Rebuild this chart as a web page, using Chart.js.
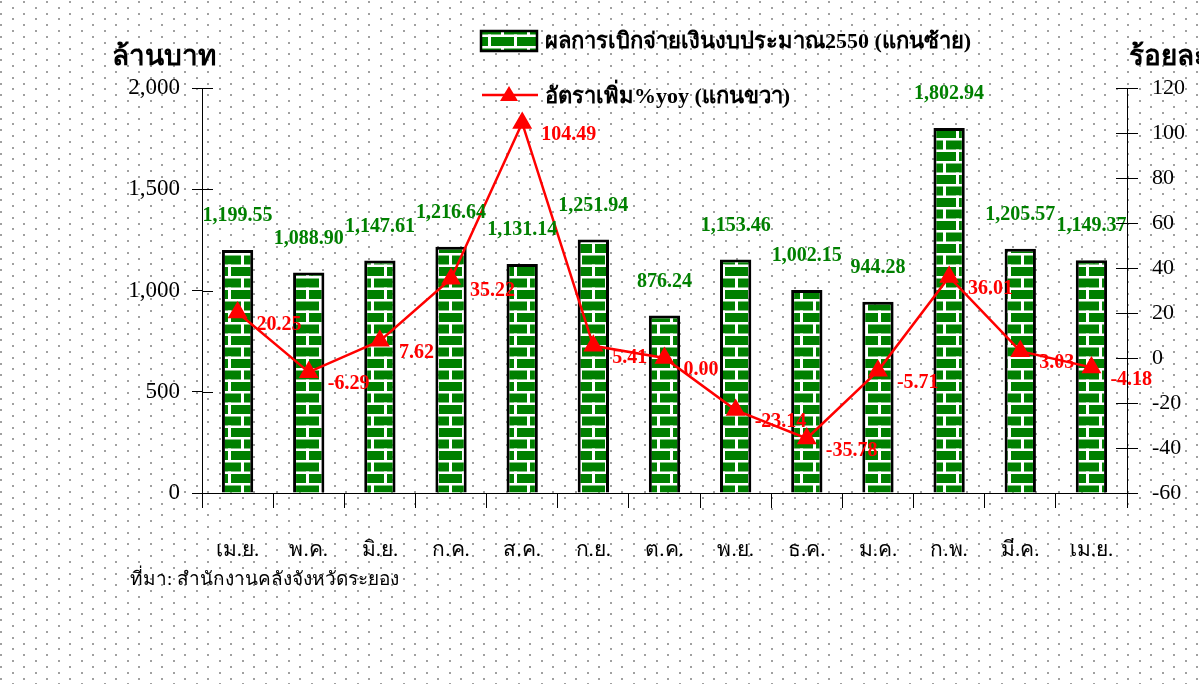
<!DOCTYPE html>
<html>
<head>
<meta charset="utf-8">
<script src="https://cdn.jsdelivr.net/npm/chart.js@4.4.1/dist/chart.umd.min.js"></script>
<style>
    body { margin: 0; background: #fff; }
    #wrap { width: 1199px; height: 684px; position: relative; }
</style>
</head>
<body>
<div id="wrap"><canvas id="budgetChart" width="1199" height="684"></canvas></div>
<script>
var months = ['เม.ย.', 'พ.ค.', 'มิ.ย.', 'ก.ค.', 'ส.ค.', 'ก.ย.', 'ต.ค.', 'พ.ย.', 'ธ.ค.', 'ม.ค.', 'ก.พ.', 'มี.ค.', 'เม.ย.'];
var disbursement = [1199.55, 1088.90, 1147.61, 1216.64, 1131.14, 1251.94, 876.24, 1153.46, 1002.15, 944.28, 1802.94, 1205.57, 1149.37];
var yoyGrowth = [20.25, -6.29, 7.62, 35.22, 104.49, 5.41, 0.00, -23.14, -35.78, -5.71, 36.01, 3.03, -4.18];
var leftTicks = [0, 500, 1000, 1500, 2000];
var rightTicks = [-60, -40, -20, 0, 20, 40, 60, 80, 100, 120];

var barLegend = 'ผลการเบิกจ่ายเงินงบประมาณ2550 (แกนซ้าย)';
var lineLegend = 'อัตราเพิ่ม%yoy (แกนขวา)';
var leftTitle = 'ล้านบาท';
var rightTitle = 'ร้อยละ';
var sourceNote = 'ที่มา: สำนักงานคลังจังหวัดระยอง';

var serif = "'Liberation Serif', 'Times New Roman', serif";

// dotted page background
var makeDots = function () {
    var c = document.createElement('canvas');
    c.width = 23;
    c.height = 35;
    var g = c.getContext('2d');
    g.fillStyle = '#a0a0a0';
    for (var r = 0; r < 6; r++) {
        var y = Math.round(1 + r * 5.83);
        var x = (r % 2 == 0) ? 0 : 12;
        g.fillRect(x, y, 2, 2);
    }
    return g.createPattern(c, 'repeat');
};

// green bricks for the bars
var makeBricks = function () {
    var c = document.createElement('canvas');
    c.width = 26;
    c.height = 23;
    var g = c.getContext('2d');
    g.fillStyle = '#008000';
    g.fillRect(0, 0, 26, 23);
    g.fillStyle = '#ffffff';
    g.fillRect(0, 0, 26, 2.5);
    g.fillRect(0, 11.5, 26, 2.5);
    g.fillRect(7, 0, 3, 12);
    g.fillRect(20, 11.5, 3, 12);
    return g.createPattern(c, 'repeat');
};

var ctx = document.getElementById('budgetChart').getContext('2d');
var dotPattern = makeDots();
var brickPattern = makeBricks();

var fmtMoney = function (v) {
    return v.toLocaleString('en-US', { minimumFractionDigits: 2, maximumFractionDigits: 2 });
};

var backgroundPlugin = {
    id: 'dottedBackground',
    beforeDraw: function (chart) {
        var c = chart.ctx;
        c.save();
        c.fillStyle = '#ffffff';
        c.fillRect(0, 0, chart.width, chart.height);
        c.fillStyle = dotPattern;
        c.fillRect(0, 0, chart.width, chart.height);
        c.restore();
    }
};

var extrasPlugin = {
    id: 'extras',
    afterDatasetsDraw: function (chart) {
        var c = chart.ctx;
        c.save();
        c.textBaseline = 'middle';

        // bar value labels
        c.font = 'bold 20px ' + serif;
        c.fillStyle = '#008000';
        c.textAlign = 'center';
        chart.getDatasetMeta(1).data.forEach(function (bar, i) {
            c.fillText(fmtMoney(disbursement[i]), bar.x, bar.y - 34);
        });

        // line value labels
        c.font = 'bold 20px ' + serif;
        c.fillStyle = '#ff0000';
        c.textAlign = 'left';
        chart.getDatasetMeta(0).data.forEach(function (pt, i) {
            c.fillText(yoyGrowth[i].toFixed(2), pt.x + 19, pt.y + 12);
        });
        c.restore();
    },
    afterDraw: function (chart) {
        var c = chart.ctx;
        c.save();
        c.strokeStyle = '#000';
        c.lineWidth = 1;

        // ticks that cross into the plot
        var yl = chart.scales.yLeft;
        var yr = chart.scales.yRight;
        yl.ticks.forEach(function (t) {
            var y = Math.round(yl.getPixelForValue(t.value)) + 0.5;
            c.beginPath();
            c.moveTo(yl.right, y);
            c.lineTo(yl.right + 11, y);
            c.stroke();
        });
        yr.ticks.forEach(function (t) {
            var y = Math.round(yr.getPixelForValue(t.value)) + 0.5;
            c.beginPath();
            c.moveTo(yr.left, y);
            c.lineTo(yr.left - 11, y);
            c.stroke();
        });

        // axis titles
        c.fillStyle = '#000';
        c.textBaseline = 'middle';
        c.textAlign = 'left';
        c.font = 'bold 28px ' + serif;
        c.fillText(leftTitle, 112, 58);
        c.fillText(rightTitle, 1129, 58);

        // legend
        c.font = 'bold 22px ' + serif;
        c.fillStyle = brickPattern;
        c.fillRect(481, 31, 56, 20);
        c.lineWidth = 2.5;
        c.strokeRect(481, 31, 56, 20);
        c.fillStyle = '#000';
        c.fillText(barLegend, 545, 42);

        c.strokeStyle = '#ff0000';
        c.lineWidth = 2.5;
        c.beginPath();
        c.moveTo(482, 95);
        c.lineTo(538, 95);
        c.stroke();
        c.fillStyle = '#ff0000';
        c.beginPath();
        c.moveTo(509, 86);
        c.lineTo(518, 101);
        c.lineTo(500, 101);
        c.closePath();
        c.fill();
        c.fillStyle = '#000';
        c.fillText(lineLegend, 545, 97);

        // source note
        c.font = '19px ' + serif;
        c.fillText(sourceNote, 130, 580);
        c.restore();
    }
};

var chart = new Chart(ctx, {
    type: 'bar',
    data: {
        labels: months,
        datasets: [{
            type: 'line',
            label: lineLegend,
            data: yoyGrowth,
            yAxisID: 'yRight',
            order: 0,
            borderColor: '#ff0000',
            backgroundColor: '#ff0000',
            borderWidth: 2.5,
            tension: 0,
            pointStyle: 'triangle',
            pointRadius: 9,
            pointBackgroundColor: '#ff0000',
            pointBorderColor: '#ff0000'
        }, {
            type: 'bar',
            label: barLegend,
            data: disbursement,
            yAxisID: 'yLeft',
            order: 1,
            backgroundColor: brickPattern,
            borderColor: '#000',
            borderWidth: 3,
            categoryPercentage: 1,
            barPercentage: 0.44
        }]
    },
    options: {
        responsive: false,
        animation: false,
        layout: { padding: { top: 88, left: 0, right: 0, bottom: 0 } },
        plugins: {
            legend: { display: false },
            tooltip: { enabled: false }
        },
        scales: {
            x: {
                offset: true,
                grid: { offset: true, drawOnChartArea: false, tickLength: 15, color: '#000', lineWidth: 1 },
                border: { color: '#000', width: 1 },
                ticks: { padding: 30, color: '#000', font: { family: serif, size: 21 }, maxRotation: 0 },
                afterFit: function (scale) { scale.height = 191; }
            },
            yLeft: {
                position: 'left',
                min: leftTicks[0],
                max: leftTicks[leftTicks.length - 1],
                afterBuildTicks: function (scale) {
                    scale.ticks = leftTicks.map(function (v) { return { value: v }; });
                },
                grid: { drawOnChartArea: false, tickLength: 10, color: '#000', lineWidth: 1 },
                border: { color: '#000', width: 1 },
                ticks: {
                    padding: 12,
                    color: '#000',
                    font: { family: serif, size: 23 },
                    callback: function (v) { return v.toLocaleString('en-US'); }
                },
                afterFit: function (scale) { scale.width = 202; }
            },
            yRight: {
                position: 'right',
                min: rightTicks[0],
                max: rightTicks[rightTicks.length - 1],
                afterBuildTicks: function (scale) {
                    scale.ticks = rightTicks.map(function (v) { return { value: v }; });
                },
                grid: { drawOnChartArea: false, tickLength: 11, color: '#000', lineWidth: 1 },
                border: { color: '#000', width: 1 },
                ticks: {
                    padding: 14,
                    color: '#000',
                    font: { family: serif, size: 22 },
                    callback: function (v) { return String(v); }
                },
                afterFit: function (scale) { scale.width = 72; }
            }
        }
    },
    plugins: [backgroundPlugin, extrasPlugin]
});
</script>
</body>
</html>
